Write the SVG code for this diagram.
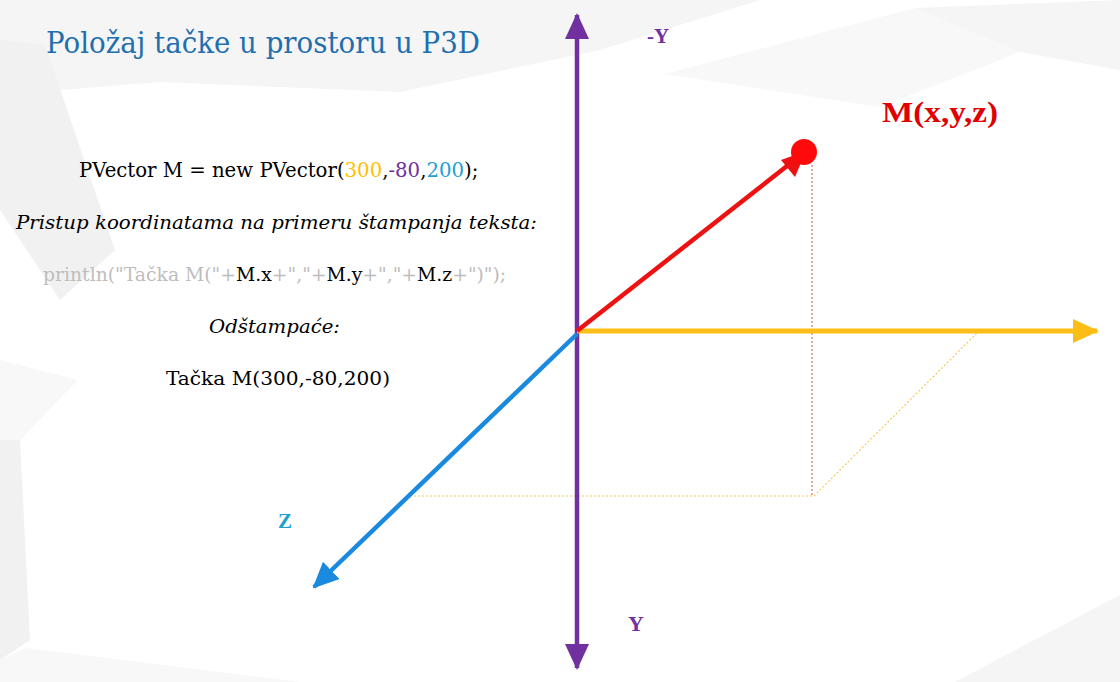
<svg xmlns="http://www.w3.org/2000/svg" width="1120" height="682" viewBox="0 0 1120 682">
<style>
.body{font-family:"DejaVu Serif","Liberation Serif",serif;font-size:19.3px;fill:#000}
.it{font-style:italic}
.lbl{font-family:"Liberation Serif","DejaVu Serif",serif;font-weight:bold}
.gray{fill:#bdbdbd}
.bg1{fill:#f5f5f5}
.bg2{fill:#f1f1f1}
.bg3{fill:#f8f8f8}
</style>
<defs>
<marker id="ahP" markerUnits="userSpaceOnUse" markerWidth="26" markerHeight="26" viewBox="0 0 26 26" refX="24" refY="13" orient="auto"><path d="M0,1 L26,13 L0,25 Z" fill="#7030a0"/></marker>
<marker id="ahY" markerUnits="userSpaceOnUse" markerWidth="26" markerHeight="26" viewBox="0 0 26 26" refX="24" refY="13" orient="auto"><path d="M0,1 L26,13 L0,25 Z" fill="#fbbd16"/></marker>
<marker id="ahB" markerUnits="userSpaceOnUse" markerWidth="26" markerHeight="26" viewBox="0 0 26 26" refX="24" refY="13" orient="auto"><path d="M0,1 L26,13 L0,25 Z" fill="#1a8ae0"/></marker>
</defs>
<rect width="1120" height="682" fill="#ffffff"/>
<g id="background">
<polygon class="bg1" points="0,0 760,0 600,50 400,92 160,82 0,95"/>
<polygon class="bg2" points="0,40 45,45 115,250 60,300 0,210"/>
<polygon class="bg3" points="665,74 915,8 1020,52 880,107"/>
<polygon class="bg1" points="915,8 1120,0 1120,70 1020,52"/>
<polygon class="bg3" points="0,360 78,380 20,440 0,440"/>
<polygon class="bg2" points="0,440 20,440 30,640 0,660"/>
<polygon class="bg3" points="0,660 25,648 300,682 0,682"/>
<polygon class="bg1" points="955,682 1120,595 1120,682"/>
</g>
<g id="title">
<text x="46" y="53" font-family="DejaVu Serif, Liberation Serif, serif" font-size="30" fill="#1f6fae" textLength="434" lengthAdjust="spacingAndGlyphs">Položaj tačke u prostoru u P3D</text>
</g>
<g id="code-text">
<text class="body" x="79" y="177" style="font-size:19.7px">PVector M = new PVector(<tspan fill="#ffc000">300</tspan>,<tspan fill="#7030a0">-80</tspan>,<tspan fill="#1ea0d2">200</tspan>);</text>
<text class="body it" x="16" y="229" textLength="521" lengthAdjust="spacingAndGlyphs">Pristup koordinatama na primeru štampanja teksta:</text>
<text class="body" x="43" y="281" style="font-size:18.8px"><tspan class="gray">println("Tačka M("+</tspan>M.x<tspan class="gray">+","+</tspan>M.y<tspan class="gray">+","+</tspan>M.z<tspan class="gray">+")");</tspan></text>
<text class="body it" x="209" y="333" textLength="131" lengthAdjust="spacingAndGlyphs">Odštampaće:</text>
<text class="body" x="166" y="385" textLength="224" lengthAdjust="spacingAndGlyphs">Tačka M(300,-80,200)</text>
</g>
<g id="guides" fill="none">
<line x1="812" y1="165" x2="812" y2="496" stroke="#e06a6a" stroke-width="1.2" stroke-dasharray="2,2"/>
<polyline points="414,496 814,496 979,331" stroke="#f5c860" stroke-width="1.2" stroke-dasharray="2,2"/>
</g>
<g id="connectors" fill="none" stroke-linecap="butt">
<line id="axis-y-neg" x1="577" y1="332" x2="577" y2="15" stroke="#7030a0" stroke-width="4.5" marker-end="url(#ahP)"/>
<line id="axis-y-pos" x1="577" y1="332" x2="577" y2="668" stroke="#7030a0" stroke-width="4.5" marker-end="url(#ahP)"/>
<line id="axis-x" x1="577" y1="331" x2="1097" y2="331" stroke="#fbbd16" stroke-width="5" marker-end="url(#ahY)"/>
<line id="axis-z" x1="577" y1="334" x2="314" y2="587" stroke="#1a8ae0" stroke-width="4.5" marker-end="url(#ahB)"/>
<line id="vector-m" x1="577" y1="331" x2="801" y2="155" stroke="#ee1111" stroke-width="4.5"/>
<path d="M806,151 L781,160 L795,177 Z" fill="#ee1111"/>
</g>
<g id="point-m">
<circle cx="804" cy="152" r="13" fill="#ff0a0a"/>
</g>
<g id="labels">
<text class="lbl" x="647" y="43" font-size="21" fill="#7030a0">-Y</text>
<text class="lbl" x="628" y="631" font-size="22" fill="#7030a0">Y</text>
<text class="lbl" x="278" y="528" font-size="21" fill="#1ea0d2">Z</text>
<text class="lbl" x="882" y="122" font-size="29" fill="#e00000" textLength="116" lengthAdjust="spacingAndGlyphs">M(x,y,z)</text>
</g>
</svg>
